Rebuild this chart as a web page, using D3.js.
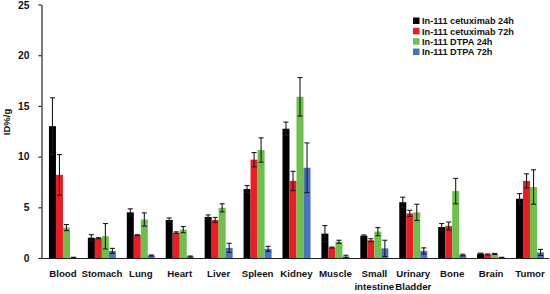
<!DOCTYPE html>
<html>
<head>
<meta charset="utf-8">
<script src="https://cdn.jsdelivr.net/npm/d3@7"></script>
<style>
  body { margin: 0; background: #fff; }
  svg { display: block; font-family: "Liberation Sans", Arial, Helvetica, sans-serif; font-weight: bold; }
</style>
</head>
<body>
<svg id="chart" width="550" height="294"></svg>
<script>
const organs = ["Blood", "Stomach", "Lung", "Heart", "Liver", "Spleen", "Kidney", "Muscle",
  "Small intestine", "Urinary Bladder", "Bone", "Brain", "Tumor"];
const organLines = [["Blood"], ["Stomach"], ["Lung"], ["Heart"], ["Liver"], ["Spleen"], ["Kidney"],
  ["Muscle"], ["Small", "intestine"], ["Urinary", "Bladder"], ["Bone"], ["Brain"], ["Tumor"]];
const seriesNames = ["In-111 cetuximab 24h", "In-111 cetuximab 72h", "In-111 DTPA 24h", "In-111 DTPA 72h"];
const seriesColors = ["#000000", "#ec1c24", "#6dc04b", "#4a70c4"];

const cetux24 = [13.0, 2.0, 4.5, 3.75, 4.05, 6.8, 12.75, 2.4, 2.2, 5.5, 3.05, 0.43, 5.85];
const cetux24Err = [2.8, 0.3, 0.35, 0.2, 0.2, 0.35, 0.65, 0.8, 0.07, 0.5, 0.35, 0.05, 0.5];
const cetux72 = [8.2, 1.95, 2.25, 2.5, 3.75, 9.7, 7.6, 1.03, 1.75, 4.4, 3.15, 0.35, 7.6];
const cetux72Err = [2.0, 0.05, 0.05, 0.08, 0.25, 0.7, 0.95, 0.05, 0.15, 0.3, 0.4, 0.05, 0.7];
const dtpa24 = [3.0, 2.15, 3.8, 2.8, 4.95, 10.65, 15.9, 1.6, 2.6, 4.5, 6.6, 0.4, 7.0];
const dtpa24Err = [0.3, 1.25, 0.65, 0.3, 0.4, 1.2, 1.9, 0.15, 0.4, 0.8, 1.25, 0.05, 1.7];
const dtpa72 = [0.05, 0.7, 0.25, 0.15, 1.0, 0.9, 8.9, 0.15, 0.95, 0.7, 0.3, 0.05, 0.55];
const dtpa72Err = [0.02, 0.25, 0.05, 0.05, 0.45, 0.25, 2.45, 0.12, 0.8, 0.3, 0.08, 0.02, 0.3];

const yTicks = [0, 5, 10, 15, 20, 25];

const values = [cetux24, cetux72, dtpa24, dtpa72];
const errors = [cetux24Err, cetux72Err, dtpa24Err, dtpa72Err];

const svg = d3.select("#chart");

const x = d3.scaleBand().domain(organs).range([43.5, 549.5]).paddingInner(0.28).paddingOuter(0.14);
const xs = d3.scaleBand().domain(d3.range(seriesNames.length)).range([0, x.bandwidth()]);
const y = d3.scaleLinear().domain([0, 25]).range([258, 4.5]);

// bars
const rows = [];
organs.forEach((o, i) => {
  values.forEach((vals, s) => rows.push({ organ: o, s, v: vals[i], e: errors[s][i] }));
});

const g = svg.append("g");
g.selectAll("rect.bar")
  .data(rows)
  .join("rect")
  .attr("class", "bar")
  .attr("x", d => x(d.organ) + xs(d.s))
  .attr("y", d => y(d.v))
  .attr("width", xs.bandwidth())
  .attr("height", d => y(0) - y(d.v))
  .attr("fill", d => seriesColors[d.s]);

// error bars
const eb = g.selectAll("g.err")
  .data(rows)
  .join("g")
  .attr("class", "err")
  .attr("stroke", "#1a1a1a")
  .attr("stroke-width", 1.1);
const cx = d => x(d.organ) + xs(d.s) + xs.bandwidth() / 2;
eb.append("line")
  .attr("x1", cx).attr("x2", cx)
  .attr("y1", d => y(d.v + d.e)).attr("y2", d => y(Math.max(0, d.v - d.e)));
eb.append("line")
  .attr("x1", d => cx(d) - 2.5).attr("x2", d => cx(d) + 2.5)
  .attr("y1", d => y(d.v + d.e)).attr("y2", d => y(d.v + d.e));
eb.append("line")
  .attr("x1", d => cx(d) - 2.5).attr("x2", d => cx(d) + 2.5)
  .attr("y1", d => y(Math.max(0, d.v - d.e))).attr("y2", d => y(Math.max(0, d.v - d.e)));

// y axis
const yAxis = svg.append("g")
  .attr("transform", "translate(41.5,0)")
  .call(d3.axisLeft(y).tickValues(yTicks).tickSize(3).tickSizeOuter(0).tickPadding(9));
yAxis.select(".domain").attr("stroke", "#222").attr("stroke-width", 1.2);
yAxis.selectAll(".tick line").attr("stroke", "#222").attr("stroke-width", 1.2);
yAxis.selectAll(".tick text")
  .attr("font-family", "Liberation Sans, Arial, sans-serif")
  .attr("font-size", 10.3).attr("font-weight", "bold").attr("fill", "#111")
  .attr("dy", d => d === 25 ? "0.42em" : "0.32em");

// x axis baseline
svg.append("line")
  .attr("x1", 41.5).attr("x2", 549)
  .attr("y1", y(0) + 0.5).attr("y2", y(0) + 0.5)
  .attr("stroke", "#222").attr("stroke-width", 1.2);

// category labels
const lab = svg.append("g").selectAll("text")
  .data(organs)
  .join("text")
  .attr("text-anchor", "middle")
  .attr("font-size", 9.7)
  .attr("fill", "#111")
  .attr("transform", d => `translate(${x(d) + x.bandwidth() / 2},277)`);
lab.selectAll("tspan")
  .data((d, i) => organLines[i])
  .join("tspan")
  .attr("x", 0)
  .attr("dy", (d, j) => j === 0 ? 0 : 12.5)
  .text(d => d);

// y label
svg.append("text")
  .attr("transform", "translate(10,122) rotate(-90)")
  .attr("text-anchor", "middle")
  .attr("font-size", 9.5)
  .attr("fill", "#111")
  .text("ID%/g");

// legend
const leg = svg.append("g").selectAll("g")
  .data(seriesNames)
  .join("g")
  .attr("transform", (d, i) => `translate(413,${21 + i * 10.35})`);
leg.append("rect")
  .attr("x", 0).attr("y", -3.5).attr("width", 6.5).attr("height", 6.5)
  .attr("fill", (d, i) => seriesColors[i]);
leg.append("text")
  .attr("x", 9).attr("y", 3.3)
  .attr("font-size", 9.2)
  .attr("fill", "#111")
  .text(d => d);
</script>
</body>
</html>
